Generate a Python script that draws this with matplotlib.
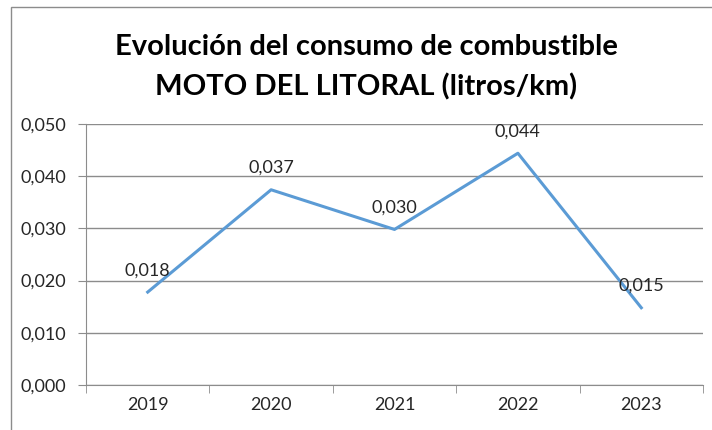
import matplotlib
matplotlib.use("Agg")
import matplotlib.pyplot as plt
from matplotlib.patches import Rectangle

years = ["2019", "2020", "2021", "2022", "2023"]
consumo = [0.0178, 0.0374, 0.0298, 0.0444, 0.0148]
y_ticks = [0.0, 0.01, 0.02, 0.03, 0.04, 0.05]

plt.rcParams["font.family"] = ["Lato", "DejaVu Sans"]

fig = plt.figure(figsize=(7.12, 4.30), dpi=100)
W, H = 712, 430

# chart frame (runs off the right and bottom edges)
fig.patches.append(Rectangle((11 / W, -0.05), 1.0, 1 - 7 / H + 0.05,
                             transform=fig.transFigure, fill=False,
                             edgecolor="#8c8c8c", linewidth=1.0))

ax = fig.add_axes([86 / W, 1 - 385 / H, (703 - 86) / W, (385 - 124) / H])

x = list(range(len(years)))
ax.plot(x, consumo, color="#5b9bd5", linewidth=2.2)

for xi, v in zip(x, consumo):
    ax.annotate(f"{v:.3f}".replace(".", ","), (xi, v), xytext=(0, 10),
                textcoords="offset points", ha="center", va="bottom",
                fontsize=13, color="#262626")

ax.set_xlim(-0.5, len(years) - 0.5)
ax.set_ylim(0, 0.05)
ax.set_yticks(y_ticks)
ax.set_yticklabels([f"{t:.3f}".replace(".", ",") for t in y_ticks])
ax.set_xticks(x)
ax.set_xticklabels(years)
ax.set_xticks([i - 0.5 for i in range(len(years) + 1)], minor=True)
ax.tick_params(axis="x", which="major", length=0, pad=9, labelsize=13, labelcolor="#262626")
ax.tick_params(axis="x", which="minor", length=6, color="#8c8c8c", direction="out")
ax.tick_params(axis="y", length=6, color="#8c8c8c", pad=8, labelsize=13, labelcolor="#262626")

ax.grid(axis="y", color="#8c8c8c", linewidth=1.0)
ax.set_axisbelow(True)
for side in ["top", "right"]:
    ax.spines[side].set_visible(False)
ax.spines["left"].set_color("#8c8c8c")
ax.spines["bottom"].set_color("#8c8c8c")

fig.text(366 / W, 1 - 47 / H, "Evolución del consumo de combustible",
         ha="center", va="center", fontsize=21, fontweight="bold", color="black")
fig.text(366 / W, 1 - 87 / H, "MOTO DEL LITORAL (litros/km)",
         ha="center", va="center", fontsize=21, fontweight="bold", color="black")

fig.savefig("out.png", dpi=100)
